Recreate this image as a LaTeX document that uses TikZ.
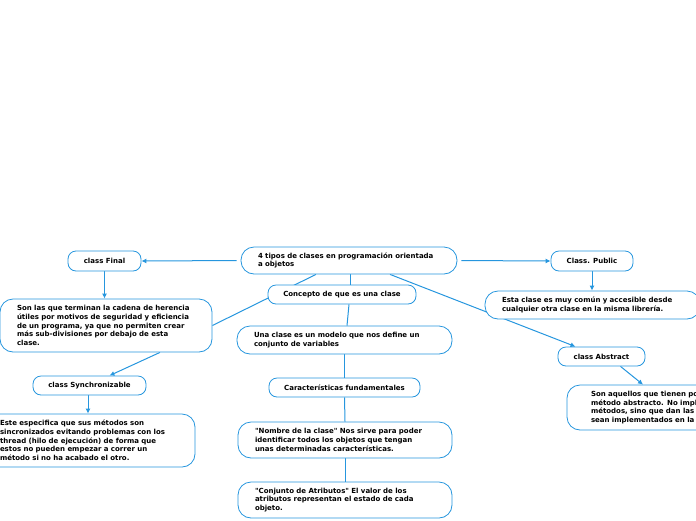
\documentclass[tikz,border=0pt]{standalone}
\usepackage{fontspec}
\setmainfont{DejaVu Sans}[Ligatures=TeXOff]
\usetikzlibrary{positioning,arrows.meta,backgrounds,calc}
\definecolor{MapBlue}{RGB}{38,150,222}
\tikzset{
  cbox/.style={draw=MapBlue,fill=white,rounded corners=8pt,line width=0.8pt,
               inner xsep=4pt,inner ysep=0pt,text centered,
               font=\bfseries\fontsize{7}{8.7}\selectfont},
  tbox/.style={draw=MapBlue,fill=white,rounded corners=13pt,line width=0.8pt,
               inner xsep=17pt,inner ysep=0pt,align=left,
               font=\bfseries\fontsize{7}{8.7}\selectfont},
  arr/.style={-{Latex[length=5pt,width=5pt]},MapBlue,line width=1pt},
  lnk/.style={MapBlue,line width=1pt},
}
\begin{document}
\begin{tikzpicture}[x=1pt,y=-1pt]
\clip (0,0) rectangle (696,520);
\useasboundingbox (0,0) rectangle (696,520);

\node[tbox,text width=182pt,minimum height=27pt] (root) at (349,260.5) {4 tipos de clases en programación orientada\\a objetos};
\node[cbox,minimum width=73pt,minimum height=20pt] (final) at (104.5,261) {class Final};
\node[cbox,minimum width=82pt,minimum height=20pt] (public) at (592,261) {Class. Public};
\node[cbox,minimum width=148pt,minimum height=19pt] (concepto) at (342,294.5) {Concepto de que es una clase};
\node[tbox,text width=178pt,minimum height=53pt] (finaldesc) at (106,325.5) {Son las que terminan la cadena de herencia\\útiles por motivos de seguridad y eficiencia\\de un programa, ya que no permiten crear\\más sub-divisiones por debajo de esta\\clase.};
\node[tbox,text width=181pt,minimum height=28pt] (publicdesc) at (592.5,305) {Esta clase es muy común y accesible desde\\cualquier otra clase en la misma librería.};
\node[tbox,text width=181pt,minimum height=28pt] (modelo) at (344.5,340) {Una clase es un modelo que nos define un\\conjunto de variables};
\node[cbox,minimum width=113pt,minimum height=19pt] (sync) at (89.5,385.5) {class Synchronizable};
\node[cbox,minimum width=87pt,minimum height=19pt] (abstract) at (601.5,356.5) {class Abstract};
\node[cbox,minimum width=151pt,minimum height=19pt] (carac) at (344.5,387.5) {Características fundamentales};
\node[tbox,text width=178pt,minimum height=53pt] (syncdesc) at (89,440.5) {Este especifica que sus métodos son\\sincronizados evitando problemas con los\\thread (hilo de ejecución) de forma que\\estos no pueden empezar a correr un\\método si no ha acabado el otro.};
\node[tbox,inner xsep=24pt,text width=190pt,minimum height=45pt] (abstractdesc) at (686,407.5) {Son aquellos que tienen por lo menos un\\método abstracto. No implementan los\\métodos, sino que dan las bases para que\\sean implementados en la herencia.};
\node[tbox,text width=180pt,minimum height=36pt] (nombre) at (345,440) {"Nombre de la clase" Nos sirve para poder\\identificar todos los objetos que tengan\\unas determinadas características.};
\node[tbox,text width=180pt,minimum height=36pt] (conjunto) at (345,500) {"Conjunto de Atributos" El valor de los\\atributos representan el estado de cada\\objeto.};

\begin{scope}[on background layer]
\draw[arr,shorten <=4pt] (root.west) -- (final.east);
\draw[arr,shorten <=4pt] (root.east) -- (public.west);
\draw[arr] (final.south) -- (final.south |- finaldesc.north);
\draw[arr] (public.south) -- (public.south |- publicdesc.north);
\draw[lnk] ([xshift=-33pt]root.south) -- (finaldesc.east);
\draw[arr] ([xshift=54pt]finaldesc.south) -- ([xshift=20pt]sync.north);
\draw[arr] ([xshift=-1.5pt]sync.south) -- ([xshift=-1.5pt]sync.south |- syncdesc.north);
\draw[arr] ([xshift=41pt]root.south) -- ([xshift=-26pt]abstract.north);
\draw[arr] ([xshift=19pt]abstract.south) -- ([xshift=-43pt]abstractdesc.north);
\draw[lnk] ([xshift=1pt]root.south) -- ([xshift=1pt]root.south |- concepto.north);
\draw[lnk] ([xshift=7pt]concepto.south) -- ([xshift=2.5pt]modelo.north);
\draw[lnk] (modelo.south) -- (carac.north);
\draw[lnk] (carac.south) -- (nombre.north);
\draw[lnk] (nombre.south) -- (conjunto.north);
\end{scope}
\end{tikzpicture}
\end{document}
